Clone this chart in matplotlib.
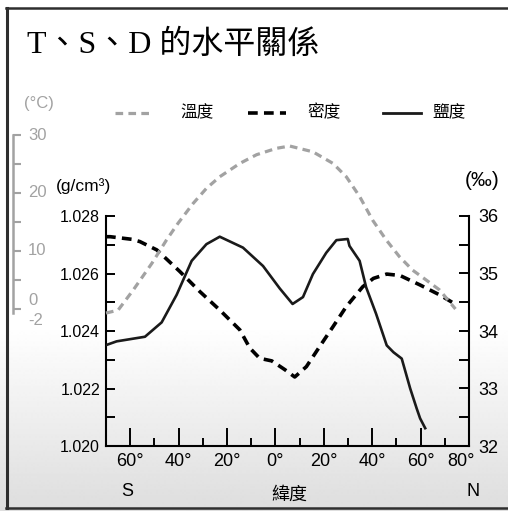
import numpy as np
import matplotlib
matplotlib.use("Agg")
import matplotlib.pyplot as plt
from matplotlib.lines import Line2D
from matplotlib.transforms import blended_transform_factory, ScaledTranslation

W, H, DPI = 508, 511, 100

# ---- data: latitude (south negative) ----
lat_temp = [-70, -65, -58.7, -51, -45, -40.2, -34, -28.5, -23, -14.7, -7.8, 0.4,
            5.9, 15.5, 23.8, 29.3, 34.8, 40.2, 45.8, 51.3, 56.7, 62.3, 67.8, 74.4]
temp = [-0.7, -0.2, 3.3, 7.9, 11.9, 14.8, 18.2, 20.8, 22.8, 25.1, 26.6, 27.7,
        28.1, 27.1, 25.1, 22.8, 19.4, 15.3, 11.9, 9.0, 6.7, 5.0, 3.3, 0.0]

lat_dens = [-70, -68.3, -59.4, -56, -49, -39.5, -31.2, -23, -14.7, -10.6, -6.5, -1.5,
            4, 8, 12.8, 18.3, 23.8, 29.3, 36.1, 40.5, 46, 51.5, 59.8, 68, 73]
dens = [1.02728, 1.02728, 1.02719, 1.02711, 1.02682, 1.02607, 1.02537, 1.02473, 1.02404,
        1.02341, 1.02305, 1.02296, 1.02265, 1.02240, 1.02276, 1.02346, 1.02415, 1.02485,
        1.02554, 1.02583, 1.02598, 1.02593, 1.02560, 1.02525, 1.02500]

lat_sal = [-70.3, -65.6, -53.9, -47, -40.8, -34.6, -28.5, -23, -13.4, -5.1, 1.8, 7.1,
           11.4, 15.5, 21, 25.2, 29.9, 30.6, 34.8, 37.5, 41.6, 46, 48.8, 52.2, 55.7,
           58.4, 59.8, 61.9]
sal = [33.75, 33.82, 33.90, 34.15, 34.63, 35.22, 35.51, 35.64, 35.45, 35.13, 34.74, 34.47,
       34.59, 34.99, 35.36, 35.58, 35.60, 35.48, 35.22, 34.76, 34.30, 33.75, 33.63, 33.52,
       33.00, 32.65, 32.48, 32.31]

lat_ticks = [-60, -40, -20, 0, 20, 40, 60, 80]
lat_labels = ["60°", "40°", "20°", "0°", "20°", "40°", "60°", "80°"]
lat_minor = [-50, -30, -10, 10, 30, 50, 70]
dens_ticks = [1.020, 1.022, 1.024, 1.026, 1.028]
dens_minor = [1.021, 1.023, 1.025, 1.027]
sal_ticks = [32, 33, 34, 35, 36]
sal_minor = [32.5, 33.5, 34.5, 35.5]
temp_ticks = [0, 5, 10, 15, 20, 25, 30]
temp_labels = [(30, "30"), (20, "20"), (10, "10"), (1.4, "0"), (-1.9, "-2")]

GRAY = "#a2a2a2"
SANS = ["Liberation Sans", "Noto Sans CJK TC"]
CJK = ["Noto Sans CJK TC", "DejaVu Sans"]
TITLE = ["Liberation Serif", "Noto Sans CJK TC"]

plt.rcParams["lines.scale_dashes"] = False
plt.rcParams["font.family"] = SANS

fig = plt.figure(figsize=(W / DPI, H / DPI), dpi=DPI)


def fx(px):
    return px / W


def fy(py):
    return 1 - py / H


# background: white fading to light gray at the bottom
bg = fig.add_axes([0, 0, 1, 1], zorder=-10)
bg.axis("off")
rows = np.arange(H)
shade = np.where(rows < 325, 1.0, 1.0 - (rows - 325) / (508 - 325) * 0.13)
bg.imshow(shade[:, None], cmap="gray", vmin=0, vmax=1, aspect="auto",
          extent=[0, 1, 0, 1], interpolation="bilinear")
bg.set_xlim(0, 1)
bg.set_ylim(0, 1)

# frame
for xs, ys, lw in [([6.5, 6.5], [8, 508], 2.2), ([6, W], [8, 8], 1.8),
                   ([6, W], [508, 508], 1.8)]:
    fig.add_artist(Line2D([fx(v) for v in xs], [fy(v) for v in ys],
                          transform=fig.transFigure, color="#2e2e2e", lw=lw))

# title
fig.text(fx(27), fy(53), "T、S、D 的水平關係", fontsize=23, family=TITLE,
         fontweight="light", va="baseline", ha="left")

# main axes: density
top, bot, left, right = 216, 446, 106, 469
ax = fig.add_axes([fx(left), fy(bot), fx(right) - fx(left), (bot - top) / H])
ax.patch.set_alpha(0)
ax.set_xlim(-70, 80)
ax.set_ylim(1.020, 1.028)
for s in ["top", "right"]:
    ax.spines[s].set_visible(False)
for s in ["left", "bottom"]:
    ax.spines[s].set_linewidth(1.5)
ax.set_xticks(lat_ticks)
ax.set_xticklabels(lat_labels)
ax.set_xticks(lat_minor, minor=True)
ax.tick_params(axis="x", which="major", direction="in", length=13, width=1.4,
               pad=5, labelsize=13)
ax.tick_params(axis="x", which="minor", direction="in", length=5.8, width=1.4)
last = ax.get_xticklabels()[-1]
last.set_transform(last.get_transform() + ScaledTranslation(-6 / 72, 0, fig.dpi_scale_trans))
ax.set_yticks(dens_ticks)
ax.set_yticklabels([f"{v:.3f}" for v in dens_ticks])
ax.set_yticks(dens_minor, minor=True)
ax.tick_params(axis="y", which="both", direction="in", length=6.5, width=1.4,
               pad=4.3, labelsize=11.5)
ax.plot(lat_dens, dens, color="black", lw=2.6, dashes=(7, 4.5),
        solid_capstyle="butt", dash_capstyle="butt")

# salinity axis on the right
axs = ax.twinx()
axs.patch.set_alpha(0)
axs.set_ylim(32, 36)
for s in ["top", "left", "bottom"]:
    axs.spines[s].set_visible(False)
axs.spines["right"].set_linewidth(1.5)
axs.set_yticks(sal_ticks)
axs.set_yticks(sal_minor, minor=True)
axs.tick_params(axis="y", which="both", direction="in", length=7, width=1.4,
                pad=7, labelsize=13)
axs.plot(lat_sal, sal, color="#1a1a1a", lw=1.9)

# temperature curve (scale drawn at far left)
t_per_px = 1 / 5.8
axt = ax.twinx()
axt.patch.set_alpha(0)
axt.set_ylim((309 - bot) * t_per_px, (309 - top) * t_per_px)
axt.axis("off")
axt.plot(lat_temp, temp, color=GRAY, lw=2.3, dashes=(5.5, 3.8), clip_on=False)

# temperature scale
axT = fig.add_axes([fx(13.3), fy(312.7), fx(28) - fx(13.3), (312.7 - 135) / H])
axT.patch.set_alpha(0)
axT.set_ylim(-0.64, 30)
axT.set_xlim(0, 1)
for s in ["top", "right", "bottom"]:
    axT.spines[s].set_visible(False)
axT.spines["left"].set_color(GRAY)
axT.spines["left"].set_linewidth(1.8)
axT.set_xticks([])
axT.set_yticks(temp_ticks)
axT.tick_params(axis="y", direction="in", length=5.8, width=1.5, color=GRAY,
                labelleft=False)
tr = blended_transform_factory(axT.transAxes, axT.transData)
for v, s in temp_labels:
    axT.text(1.0, v, s, transform=tr, ha="left", va="center", fontsize=12,
             color=GRAY)

# unit labels
fig.text(fx(24), fy(103), "(°C)", fontsize=12, color=GRAY, va="center", ha="left")
fig.text(fx(56), fy(186.5), "(g/cm³)", fontsize=12.5, va="center", ha="left")
fig.text(fx(465), fy(180), "(‰)", fontsize=15, va="center", ha="left")

# legend
ly = fy(113)
fig.add_artist(Line2D([fx(115), fx(152)], [ly, ly], transform=fig.transFigure,
                      color=GRAY, lw=2.3, dashes=(5.5, 3.8)))
fig.text(fx(180), ly, "溫度", family=CJK, fontsize=12, va="center", ha="left")
fig.add_artist(Line2D([fx(248), fx(286)], [ly, ly], transform=fig.transFigure,
                      color="black", lw=2.6, dashes=(7, 4.5)))
fig.text(fx(307), ly, "密度", family=CJK, fontsize=12, va="center", ha="left")
fig.add_artist(Line2D([fx(383), fx(421)], [ly, ly], transform=fig.transFigure,
                      color="#1a1a1a", lw=2.0))
fig.text(fx(432), ly, "鹽度", family=CJK, fontsize=12, va="center", ha="left")

# bottom captions
fig.text(fx(127), fy(492), "S", fontsize=13, ha="center", va="center")
fig.text(fx(289), fy(495), "緯度", family=CJK, fontsize=13, ha="center", va="center")
fig.text(fx(473), fy(492), "N", fontsize=13, ha="center", va="center")

fig.savefig("out.png", dpi=DPI)
